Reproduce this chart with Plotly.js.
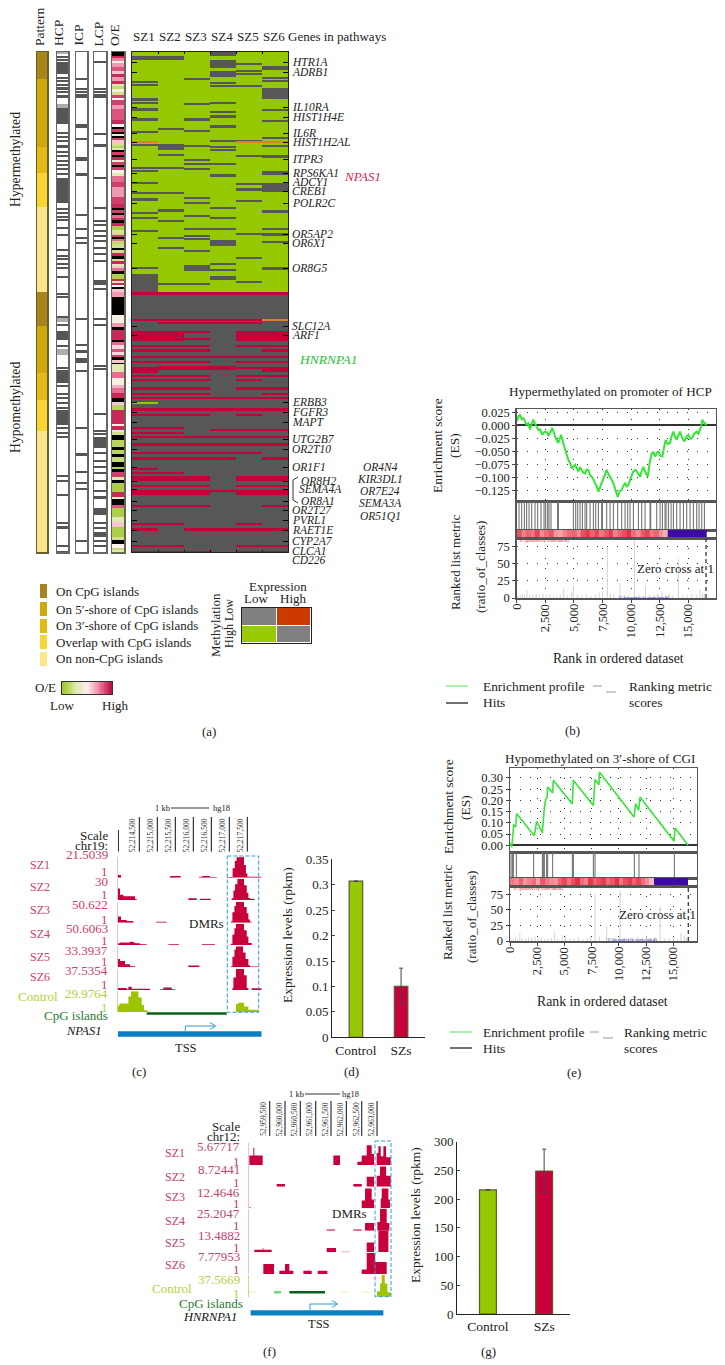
<!DOCTYPE html>
<html><head><meta charset="utf-8"><script src="https://cdn.plot.ly/plotly-3.0.1.min.js"></script>
<style>html,body{margin:0;padding:0;background:#fff}</style></head><body><div id="chart" style="width:725px;height:1365px"></div>
<script>
// ---------- Panel (a): heat map, rows numbered from the top, [first row, row count]
const samples=['SZ1','SZ2','SZ3','SZ4','SZ5','SZ6'];
const ROWS=500, HYPER_END=240;
const hyperSZ1=[[4,4],[29,1],[32,1],[46,3],[50,1],[56,3],[66,3],[79,1],[92,2],[115,1],[118,1],[130,1],[140,1],[146,3],[160,1],[165,1],[178,1],[215,2],[222,18]];
const hyperSZ2=[[4,4],[76,1],[92,2],[94,1],[96,1],[102,1],[115,1],[140,2],[157,3],[168,1],[185,1],[195,1],[231,2]];
const hyperSZ3=[[26,1],[51,1],[66,3],[78,1],[93,1],[107,2],[111,1],[116,1],[145,1],[150,1],[163,1],[176,1],[183,1],[186,1],[198,1],[213,1],[214,5],[231,1]];
const hyperSZ4=[[0,4],[8,8],[19,6],[30,1],[33,1],[50,1],[59,1],[63,3],[73,3],[88,2],[94,1],[97,1],[111,1],[122,3],[155,1],[165,1],[176,1],[188,6],[211,2],[217,1],[224,4]];
const hyperSZ5=[[11,1],[18,1],[21,1],[33,1],[88,1],[103,2],[131,2],[136,3],[148,2],[181,2],[205,1],[229,1]];
const hyperSZ6=[[14,4],[25,1],[28,1],[36,11],[57,2],[68,1],[85,1],[93,1],[103,3],[119,4],[131,9],[158,3],[176,2],[181,3],[189,1],[215,3]];
const hypoSZ1=[[240,3],[267,1],[279,10],[293,1],[297,3],[304,2],[309,1],[315,6],[323,1],[327,1],[335,3],[341,2],[345,1],[356,3],[362,1],[375,1],[380,1],[384,1],[391,3],[400,1],[405,3],[416,1],[420,1],[424,5],[433,1],[438,5],[453,1],[471,1],[476,3],[493,1],[499,1]];
const hypoSZ2=[[240,3],[267,1],[270,1],[279,10],[293,1],[297,3],[304,2],[309,1],[314,4],[323,1],[327,1],[335,3],[341,2],[345,1],[356,3],[362,1],[375,1],[380,1],[384,1],[391,3],[400,1],[405,3],[420,1],[424,5],[433,1],[438,5],[453,1],[471,1],[493,1],[499,1]];
const hypoSZ3=[[240,3],[267,1],[270,1],[279,2],[286,2],[293,1],[297,3],[304,2],[309,1],[314,4],[323,1],[327,1],[335,3],[341,2],[345,1],[356,3],[362,1],[384,1],[391,3],[400,1],[405,3],[424,5],[433,1],[438,5],[453,1],[476,3],[499,1]];
const hypoSZ4=[[240,3],[267,1],[270,1],[304,1],[314,4],[345,1],[356,3],[377,2],[384,1],[391,3],[400,1],[405,3],[438,2],[476,3]];
const hypoSZ5=[[240,3],[267,1],[270,1],[279,10],[293,1],[304,2],[309,1],[315,1],[323,1],[327,1],[335,3],[345,1],[356,3],[362,1],[377,2],[384,1],[391,3],[400,1],[424,5],[433,1],[438,5],[471,1],[476,3],[493,1],[499,1]];
const hypoSZ6=[[240,3],[279,10],[293,1],[297,3],[304,2],[309,1],[315,5],[323,1],[335,3],[341,2],[345,1],[356,3],[377,2],[384,1],[391,3],[405,3],[424,5],[433,1],[438,5],[453,1],[476,3],[493,1],[499,1]];
const specialCells=[[0,89,3],[4,89,3],[5,89,3],[0,90,3],[4,90,3],[5,90,3],[5,267,3],[5,268,3],[0,350,0],[0,351,0]];
const geneNames=['HTR1A','ADRB1','IL10RA','HIST1H4E','IL6R','HIST1H2AL','ITPR3','RPS6KA1','ADCY1','CREB1','POLR2C','OR5AP2','OR6X1','OR8G5','SLC12A','ARF1','ERBB3','FGFR3','MAPT','UTG2B7','OR2T10','OR1F1','OR2T27','PVRL1','RAET1E','CYP2A7','CLCA1','CD226'];
const geneRows=[10,20,55,65,81,90,107,121,130,139,151,182,191,216,274,283,350,360,370,387,397,415,458,468,478,489,499,508];
const bracketGenes=['OR8H2','SEMA4A','OR8A1'];
const bracketRows=[429,437,449];
const sideGenes=['OR4N4','KIR3DL1','OR7E24','SEMA3A','OR51Q1'];
const sideRows=[415,427,439,451,464];
const patternEnds=[27,95,121,155,240,274,321,348,379,500];
const patternClass=[0,1,2,3,4,0,1,2,3,4];
const patternColors=['#a8851a','#cfa90a','#e4bb12','#f7d535','#fde68a'];
const patternNames=['On CpG islands','On 5′-shore of CpG islands','On 3′-shore of CpG islands','Overlap with CpG islands','On non-CpG islands'];
const hcpDark=[[4,2],[7,2],[10,12],[25,1],[28,2],[32,1],[35,3],[39,2],[43,3],[56,16],[80,2],[84,1],[88,2],[93,3],[99,1],[103,2],[108,2],[112,1],[116,2],[121,1],[126,25],[156,2],[160,2],[164,1],[167,1],[175,1],[182,1],[197,2],[203,1],[206,1],[211,1],[215,1],[224,1],[241,2],[244,1],[264,2],[272,2],[279,9],[293,1],[315,2],[318,1],[320,11],[333,1],[341,2],[345,1],[350,1],[355,1],[358,15],[375,2],[380,1],[384,2],[423,1],[428,1],[442,1],[470,2],[474,3],[493,1],[499,1]];
const hcpLight=[[0,2],[52,4],[265,3],[268,2],[297,6]];
const icpDark=[[26,1],[36,1],[39,2],[42,1],[44,1],[72,4],[86,1],[105,1],[107,1],[121,3],[162,1],[176,2],[185,1],[190,1],[266,1],[292,1],[298,3],[306,5],[318,1],[375,1],[401,3],[419,1],[430,2],[436,2],[488,1]];
const lcpDark=[[9,1],[36,1],[39,1],[42,1],[44,2],[81,1],[92,3],[125,1],[155,1],[168,2],[172,2],[178,2],[183,1],[188,2],[195,2],[201,1],[208,2],[228,5],[236,1],[266,1],[272,1],[313,2],[316,2],[361,1],[378,1],[381,2],[385,1],[387,9],[400,1],[408,1],[414,2],[420,1],[428,1],[438,2],[444,3],[456,7],[470,1],[475,2],[480,5],[488,1],[493,1]];
const oeStart=[0,4,6,9,11,15,19,22,25,29,32,34,37,40,43,46,48,53,57,68,72,75,77,80,82,84,86,88,91,94,96,98,100,103,105,108,110,113,115,118,121,124,130,135,145,152,156,158,161,163,166,168,171,174,178,181,183,185,187,189,192,196,198,201,204,207,209,212,214,216,219,222,227,229,231,233,235,237,240,245,263,271,275,278,288,290,293,297,300,303,305,308,311,312,320,326,333,336,341,346,350,353,358,372,374,378,380,383,388,395,398,402,405,410,415,417,420,425,428,431,440,445,447,453,456,465,470,475,485,488,492,496,498];
const oeValue=[-1,.95,.75,.45,.7,.85,.6,.95,.7,.95,.3,.15,.45,.2,.9,.5,.9,.7,.85,.95,.5,-1,.9,-1,.4,-1,.9,.6,.2,.1,.3,-1,.9,-1,.95,.4,.9,-1,.9,.5,.3,.8,.9,.7,.9,.95,-1,.9,-1,.8,.95,-1,.95,.05,.25,.2,.9,-1,.8,.15,.2,-1,.2,.95,-1,.2,.95,.3,.6,.8,-1,.05,.95,.3,.95,.5,-1,.6,.7,-1,.45,.7,-1,.95,-1,.8,.55,.85,.55,.9,-1,.6,-1,.3,.8,.45,.65,.8,.95,-1,.6,.1,.95,.45,.95,.55,.2,-1,.1,-1,.1,-1,.15,-1,.05,-1,.9,.3,-1,.05,.95,.35,-1,.85,.05,.3,.6,.05,.2,-1,.5,.15,.3];
const oeLegend=[0,.04,.08,.12,.16,.2,.24,.28,.32,.36,.4,.44,.48,.52,.56,.6,.64,.68,.72,.76,.8,.84,.88,.92,.96,1];
const matrixZ=[[1,2],[0,1]];
// ---------- Panel (b): enrichment plot
const bRankX=[0,150,290,430,580,720,870,1010,1165,1300,1455,1600,1750,1900,2040,2240,2430,2620,2760,2910,3115,3260,3410,3640,3875,4050,4225,4370,4515,4660,4805,5100,5250,5390,5530,5680,5820,5970,6110,6265,6410,6555,6700,6845,6990,7135,7280,7430,7650,7865,8010,8155,8300,8450,8640,8825,9000,9175,9320,9470,9610,9760,9980,10195,10400,10590,10780,10920,11070,11260,11450,11620,11800,11950,12090,12230,12380,12560,12730,12880,13020,13210,13400,13550,13690,13840,13980,14130,14275,14460,14650,14820,15000,15150,15295,15510,15730,15880,16020,16120,16225,16400,16600];
const bES=[.008,.017,.021,.012,.014,.006,.001,.004,-.008,.002,.011,.003,-.002,-.009,-.008,-.018,-.012,-.013,-.019,-.015,-.005,-.016,-.025,-.034,-.018,-.033,-.047,-.056,-.067,-.072,-.083,-.076,-.084,-.089,-.081,-.086,-.091,-.093,-.085,-.086,-.096,-.099,-.104,-.112,-.118,-.128,-.119,-.109,-.098,-.086,-.094,-.099,-.105,-.112,-.128,-.138,-.127,-.125,-.117,-.112,-.118,-.115,-.101,-.089,-.086,-.094,-.099,-.088,-.080,-.091,-.099,-.072,-.054,-.052,-.060,-.053,-.051,-.059,-.060,-.042,-.028,-.036,-.034,-.020,-.012,-.022,-.028,-.019,-.012,-.024,-.031,-.022,-.018,-.026,-.025,-.016,-.012,-.016,-.008,-.002,.011,.004,.001];
const bHits=[204,437,670,874,1078,1311,1602,1835,2126,2389,2534,2709,2826,3000,3583,3641,4952,5156,5331,5535,5739,5972,6117,6409,6700,6904,7137,7428,7486,7865,8156,8448,8826,9176,9467,9700,9904,10196,10632,10924,11215,11652,11710,12235,12526,12730,12963,13050,13254,13487,13691,13982,14274,14565,14856,15148,15439,15730,15934,16167,16400];
const bMetricX=[100,300,500,700,900,1100,1400,1700,2000,2300,2600,2900,3200,3500,3800,4100,4400,4800,4950,5300,5700,6100,6500,6900,7200,7500,7920,8200,8500,9030,9400,9800,10290,10700,11260,11600,12000,12300,12700,13000,13300,13600,14130,14500,14900,15300,15700,16020,16250,16400];
const bMetricV=[3,4,6,4,12,5,4,6,5,7,4,6,3,4,5,14,4,9,18,5,4,6,3,5,8,10,75,7,5,22,4,5,85,4,18,5,4,7,9,5,6,4,57,5,4,6,5,13,9,6];
const bandEdges=[0,400,800,1200,1600,2000,2400,2800,3200,3600,4000,4400,4800,5200,5600,6000,6400,6800,7200,7600,8000,8400,8800,9200,9600,10000,10400,10800,11200,11600,12000,12400,12800,13200];
const bandBlueEndB=16600, bandBlueEndE=16380;
const bandB=[.8,.55,.7,.6,.85,.5,.65,.75,.45,.4,.55,.65,.7,.5,.8,.9,.7,.85,.6,.75,.9,.55,.7,.8,.95,.65,.5,.75,.85,.6,.7,.5,.35];
const bandE=[.6,.5,.7,.45,.55,.65,.4,.75,.6,.5,.45,.7,.85,.6,.8,.95,.65,.55,.9,.7,.8,.9,.65,.75,.95,.6,.8,.9,.7,.85,.65,.5,.3];
const bZeroCross=16544;
const rankTicks=[0,2500,5000,7500,10000,12500,15000];
const rankLabels=['0','2,500','5,000','7,500','10,000','12,500','15,000'];
// ---------- Panel (e): enrichment plot
const eRankX=[0,153,275,337,520,612,2235,2449,2969,3061,3153,3275,3397,3459,3918,3979,5724,5816,7653,7806,8173,8204,11387,11540,11816,11938,15060,15152,16346];
const eES=[.010,-.009,.048,.092,.082,.141,.043,.107,.055,.114,.166,.204,.211,.260,.233,.290,.184,.290,.177,.293,.270,.327,.126,.186,.155,.215,.018,.077,0];
const eHits=[92,214,306,582,2173,2969,3061,3153,3367,3459,3918,5724,5816,7653,7806,11418,11846,15091];
const eMetricX=[100,300,500,700,900,1100,1400,1700,2000,2300,2600,2900,3200,3500,3800,4100,4400,4800,5100,5500,5900,6300,6700,7100,7400,7806,8200,8877,9200,9600,10100,10500,10900,11300,11700,12100,12500,12900,13300,13775,14200,14600,15000,15400,15700,16000,16200];
const eMetricV=[3,4,6,4,13,5,4,6,5,7,4,6,3,4,5,14,4,9,10,5,4,6,3,5,8,75,7,24,4,5,82,4,6,5,7,4,9,5,6,57,4,5,6,4,13,9,6];
const eZeroCross=16377;
// ---------- Panels (d) and (g): bars
const barGroups=['Control','SZs'];
const dValues=[.307,.1], dErr=[0,.036];
const gValues=[216,249], gErr=[0,38];
// ---------- Panel (c): tracks, x = bp after 52,214,000, y = % of the track maximum
const cPeak1=[[2926,3],[3090,45],[3150,80],[3200,97],[3370,100],[3407,60],[3460,20],[3500,4],[3898,0]];
const cSZ1=[[-102,13],[-9,0],[1352,8],[1648,0],[2157,5],[2250,8],[2463,3],[2650,0]].concat(cPeak1);
const cSZ2=[[-102,55],[-37,25],[56,18],[380,5],[426,0],[1861,8],[2093,0],[2185,6],[2482,0],[3065,8],[3112,45],[3158,75],[3222,100],[3407,70],[3482,35],[3528,10],[3574,6],[3700,0]];
const cSZ3=[[-102,30],[-9,13],[148,8],[333,0],[963,4],[1259,0],[3040,6],[3084,50],[3140,80],[3185,100],[3407,75],[3482,45],[3528,15],[3574,4],[3621,0]];
const cSZ4=[[-102,8],[-37,12],[241,15],[333,12],[380,8],[519,3],[704,0],[1306,3],[1600,0],[2232,3],[2600,0],[3040,6],[3084,50],[3140,80],[3185,100],[3407,70],[3482,40],[3528,10],[3621,0]];
const cSZ5=[[-102,40],[-37,30],[102,15],[241,5],[380,0],[1861,8],[2167,0],[3040,5],[3084,50],[3140,85],[3185,100],[3380,70],[3450,40],[3528,10],[3574,4],[3834,0]];
const cSZ6=[[-102,10],[148,4],[194,15],[287,6],[796,0],[1074,4],[1167,12],[1398,4],[1500,0],[3084,10],[3112,60],[3185,100],[3407,70],[3482,10],[3528,0],[3621,8],[3898,0]];
const cControl=[[-102,30],[-56,42],[194,75],[268,100],[472,70],[565,35],[630,10],[722,3],[796,0],[3185,40],[3250,45],[3407,28],[3528,12],[3806,0]];
// ---------- Panel (f): tracks, x = bp after 52,959,000, y = % of the track maximum
const fSZ1=[[-163,43],[-33,78],[0,43],[272,0],[2576,43],[2794,0],[3359,15],[3500,43],[3663,90],[3826,50],[3902,0],[3989,55],[4043,85],[4120,40],[4207,85],[4294,35],[4446,0]];
const fSZ2=[[728,12],[1000,0],[3228,12],[3500,0],[3663,45],[3902,0],[3989,50],[4098,92],[4294,50],[4446,0]];
const fSZ3=[[-163,5],[-120,0],[3500,35],[3609,90],[3826,40],[3902,0],[4120,45],[4152,90],[4370,40],[4420,0]];
const fSZ4=[[2359,5],[2630,0],[3228,5],[3500,0],[3609,35],[3902,0],[4010,40],[4098,100],[4315,35],[4402,0]];
const fSZ5=[[0,12],[272,20],[293,12],[565,0],[2359,20],[2663,0],[2848,3],[3120,0],[3663,45],[3902,0],[4043,100],[4370,0]];
const fSZ6=[[293,45],[641,0],[815,15],[1000,45],[1141,15],[1272,0],[1598,15],[1870,0],[2065,15],[2380,0],[3500,20],[3663,95],[3935,55],[4315,0]];
const fControl=[[4000,25],[4100,60],[4152,100],[4250,60],[4337,20],[4446,0]];
const cRulerLabels=['52,214,500','52,215,000','52,215,500','52,216,000','52,216,500','52,217,000','52,217,500'];
const cRulerPos=[500,1000,1500,2000,2500,3000,3500];
const fRulerLabels=['52,959,500','52,960,000','52,960,500','52,961,000','52,961,500','52,962,000','52,962,500','52,963,000'];
const fRulerPos=[500,1000,1500,2000,2500,3000,3500,4000];
const cScale=['21.5039','30','50.622','50.6063','33.3937','37.5354','29.9764'];
const fScale=['5.67717','8.72441','12.4646','25.2047','13.4882','7.77953','37.5669'];
const trackNames=['SZ1','SZ2','SZ3','SZ4','SZ5','SZ6','Control'];

// ---------- drawing helpers
const W=725,H=1365,SERIF='"Liberation Serif",serif',DARK='#222';
const traces=[],annotations=[],shapes=[];
const layout={width:W,height:H,margin:{l:0,r:0,t:0,b:0},autosize:false,showlegend:false,paper_bgcolor:'#fff',plot_bgcolor:'rgba(0,0,0,0)',font:{family:SERIF,color:DARK,size:12},annotations,shapes};
let axN=0;
const base={showgrid:false,zeroline:false,showticklabels:false,ticks:'',fixedrange:true,showline:false};
function axes(l,t,r,b,xo,yo){axN++;const s=axN===1?'':axN;
  layout['xaxis'+s]=Object.assign({},base,{domain:[l/W,r/W],anchor:'y'+s},xo||{});
  layout['yaxis'+s]=Object.assign({},base,{domain:[1-b/H,1-t/H],anchor:'x'+s},yo||{});
  return {xaxis:'x'+s,yaxis:'y'+s};}
function txt(t,x,y,o){o=o||{};annotations.push({text:t,xref:'paper',yref:'paper',x:x/W,y:1-y/H,xanchor:o.a||'center',yanchor:o.v||'middle',showarrow:false,textangle:o.r||0,
  font:{family:SERIF,size:o.s||12,color:o.c||DARK},borderpad:0});}
function rect(x0,y0,x1,y1,o){shapes.push(Object.assign({type:'rect',xref:'paper',yref:'paper',x0:x0/W,x1:x1/W,y0:1-y0/H,y1:1-y1/H,line:{width:0}},o||{}));}
function path(pts,o){shapes.push({type:'path',xref:'paper',yref:'paper',path:pts.map((p,i)=>(i?'L':'M')+(p[0]/W)+','+(1-p[1]/H)).join(' '),line:Object.assign({width:1,color:'#000'},o||{})});}
function paint(col,bands,v){bands.forEach(([s,n])=>{const m=Math.max(n,2);for(let r=s;r<s+m&&r<ROWS;r++)col[r]=v;});}
function vert(arr,lo,hi){const x=[],y=[];arr.forEach(a=>{x.push(a,a,null);y.push(lo,hi,null);});return {x,y};}
const rowsY=Array.from({length:ROWS},(_,i)=>i), rowRange=[ROWS-.5,-.5];

// ---------- (a) main heat map
const hyper=[hyperSZ1,hyperSZ2,hyperSZ3,hyperSZ4,hyperSZ5,hyperSZ6],hypo=[hypoSZ1,hypoSZ2,hypoSZ3,hypoSZ4,hypoSZ5,hypoSZ6];
const columns=samples.map((_,c)=>{const col=rowsY.map(r=>r<HYPER_END?0:1);paint(col,hyper[c],1);paint(col,hypo[c],2);return col;});
specialCells.forEach(([c,r,v])=>{columns[c][r]=v;});
const mainZ=rowsY.map(r=>samples.map((_,c)=>columns[c][r]));
let A=axes(132,52,288,552,{range:[-.5,5.5],tickvals:[.5,1.5,2.5,3.5,4.5],ticks:'inside',ticklen:2,tickcolor:'#000',mirror:'ticks',showline:true,linecolor:'#222',linewidth:1},{range:rowRange,tickvals:geneRows.concat(bracketRows),ticks:'inside',ticklen:5,tickcolor:'#000',mirror:'ticks',showline:true,linecolor:'#222',linewidth:1});
traces.push(Object.assign({type:'heatmap',z:mainZ,x:[0,1,2,3,4,5],y:rowsY,zmin:0,zmax:3,showscale:false,hoverinfo:'skip',
 colorscale:[[0,'#94c800'],[.25,'#94c800'],[.25,'#575757'],[.5,'#575757'],[.5,'#c4003a'],[.75,'#c4003a'],[.75,'#d8832a'],[1,'#d8832a']]},A));
samples.forEach((s,i)=>txt(s,144+i*25.9,36,{s:13}));
txt('Genes in pathways',287,36,{a:'left',s:13});
geneNames.forEach((g,i)=>txt('<i>'+g+'</i>',291,52+geneRows[i],{a:'left',s:11.5}));
bracketGenes.forEach((g,i)=>txt('<i>'+g+'</i>',[300,298,300][i],52+bracketRows[i],{a:'left',s:11.5}));
sideGenes.forEach((g,i)=>txt('<i>'+g+'</i>',380,52+sideRows[i],{s:11.5}));
path([[298,477],[293,480],[293,500],[298,503]],{width:1,color:'#333'});
txt('<i>NPAS1</i>',343,177,{a:'left',s:13,c:'#d6244e'});
txt('<i>HNRNPA1</i>',298,360,{a:'left',s:13.5,c:'#22c33a'});
// side strips
function strip(l,r,zcol,scale,zmin,zmax,lineCol){const a=axes(l,52,r,552,{range:[-.5,.5],showline:true,mirror:true,linecolor:lineCol,linewidth:1.5},{range:rowRange,showline:true,mirror:true,linecolor:lineCol,linewidth:1.5});
  traces.push(Object.assign({type:'heatmap',z:zcol.map(v=>[v]),x:[0],y:rowsY,zmin,zmax,showscale:false,hoverinfo:'skip',colorscale:scale},a));}
const patCol=rowsY.map(r=>patternClass[patternEnds.findIndex(e=>r<e)]);
strip(37,47,patCol,[[0,patternColors[0]],[.2,patternColors[0]],[.2,patternColors[1]],[.4,patternColors[1]],[.4,patternColors[2]],[.6,patternColors[2]],[.6,patternColors[3]],[.8,patternColors[3]],[.8,patternColors[4]],[1,patternColors[4]]],0,4,'#6b5d2e');
const monoScale=[[0,'#ffffff'],[.33,'#ffffff'],[.33,'#adadad'],[.66,'#adadad'],[.66,'#555555'],[1,'#555555']];
function monoCol(dark,light){const c=rowsY.map(()=>0);if(light)paint(c,light,1);paint(c,dark,2);return c;}
strip(57,68,monoCol(hcpDark,hcpLight),monoScale,0,2,'#666');
strip(76,87,monoCol(icpDark),monoScale,0,2,'#666');
strip(94,106,monoCol(lcpDark),monoScale,0,2,'#666');
const oeScale=[[0,'#000'],[.49,'#000'],[.5,'#9fc92e'],[.62,'#d8e6a0'],[.75,'#fbf2f0'],[.88,'#ee7ea0'],[1,'#bd1245']];
const oeCol=rowsY.map(r=>{let v=oeValue[0];oeStart.forEach((s,i)=>{if(r>=s)v=oeValue[i];});return v;});
strip(112,124,oeCol,oeScale,-1,1,'#665');
[['Pattern',40],['HCP',59],['ICP',78],['LCP',98],['O/E',115]].forEach(([t,x])=>txt(t,x,47,{r:-90,v:'bottom',s:13.5}));
txt('Hypermethylated',15,160,{r:-90,s:13.7});
txt('Hypomethylated',15,408,{r:-90,s:13.7});
// pattern legend
patternNames.forEach((n,i)=>{const ys=[591,609,626,642,659][i],c=patternColors[i];rect(40,ys-7,47,ys+7,{fillcolor:c});
  txt(n,55,[591,609,626,642,658][i],{a:'left',s:13});});
// O/E legend
txt('O/E',45,687,{s:13});
A=axes(62,682,112,694,{range:[-.5,25.5],showline:true,mirror:true,linecolor:'#333',linewidth:1},{range:[-.5,.5],showline:true,mirror:true,linecolor:'#333',linewidth:1});
traces.push(Object.assign({type:'heatmap',z:[oeLegend],zmin:-1,zmax:1,showscale:false,hoverinfo:'skip',colorscale:oeScale},A));
txt('Low',62,705,{s:13});txt('High',115,705,{s:13});
// expression / methylation matrix
A=axes(242,608,311,643,{range:[-.5,1.5],showline:true,mirror:true,linecolor:'#222',linewidth:1},{range:[1.5,-.5],showline:true,mirror:true,linecolor:'#222',linewidth:1});
traces.push(Object.assign({type:'heatmap',z:matrixZ,zmin:0,zmax:2,xgap:1,ygap:1,showscale:false,hoverinfo:'skip',colorscale:[[0,'#99cc00'],[.33,'#99cc00'],[.33,'#808080'],[.66,'#808080'],[.66,'#cc3a00'],[1,'#cc3a00']]},A));
txt('Expression',278,586,{s:13});txt('Low',256,598,{s:13});txt('High',293,598,{s:13});
txt('Methylation',216,625,{r:-90,s:13});txt('Low',229,610,{r:-90,s:12});txt('High',229,636,{r:-90,s:12});
txt('(a)',209,731,{s:13});

// ---------- GSEA panels
function gsea(o){
 const grid={showgrid:true,gridcolor:'#333',griddash:'1px,9px',gridwidth:1};
 const frame={showline:true,mirror:true,linecolor:'#555',linewidth:1.5};
 const xr=[0,o.xMax];
 let a=axes(o.l,o.t1,o.r,o.t2,Object.assign({range:xr,tickvals:rankTicks},grid,frame),
   Object.assign({range:o.esRange,tickvals:o.esTicks,tickformat:o.esFmt,showticklabels:true,ticks:'outside',ticklen:3,tickfont:{size:12.5},zeroline:true,zerolinecolor:'#333',zerolinewidth:2},grid,frame));
 traces.push(Object.assign({type:'scatter',mode:'lines',x:o.rank,y:o.es,line:{color:'#35e635',width:o.lw},hoverinfo:'skip'},a));
 a=axes(o.l,o.t2,o.r,o.t3,Object.assign({range:xr},frame),Object.assign({range:[0,1]},frame));
 const h=vert(o.hits,0,1);
 traces.push(Object.assign({type:'scatter',mode:'lines',x:h.x,y:h.y,line:{color:'#666',width:1},hoverinfo:'skip'},a));
 a=axes(o.l,o.t3,o.r,o.t4,Object.assign({range:xr},frame),Object.assign({range:[0,1]},frame));
 traces.push(Object.assign({type:'heatmap',x:bandEdges.concat([o.blueEnd]),y:[0,1],z:[o.band.concat([-1])],zmin:-1,zmax:1,showscale:false,hoverinfo:'skip',
   colorscale:[[0,'#3d0aa8'],[.49,'#3d0aa8'],[.5,'#ffffff'],[.7,'#f8a0a8'],[1,'#e2263a']]},a));
 a=axes(o.l,o.t4,o.r,o.t5,Object.assign({range:xr,tickvals:rankTicks,ticks:'outside',ticklen:3},grid,frame),
   Object.assign({range:[0,o.mMax],tickvals:[0,25,50,75],showticklabels:true,ticks:'outside',ticklen:3,tickfont:{size:12.5}},grid,frame));
 rankTicks.forEach((v,i)=>annotations.push({text:rankLabels[i],xref:a.xaxis,yref:'paper',x:v,y:1-(o.t5+5)/H,yanchor:'top',xanchor:'center',textangle:-90,showarrow:false,borderpad:0,font:{family:SERIF,size:12.5,color:DARK}}));
 const sx=[],sy=[];o.mx.forEach((v,i)=>{sx.push(v,v,null);sy.push(0,o.mv[i],null);});
 traces.push(Object.assign({type:'scatter',mode:'lines',x:sx,y:sy,line:{color:'#d4d4d4',width:1},hoverinfo:'skip'},a));
 traces.push(Object.assign({type:'scatter',mode:'lines',x:[o.zero,o.zero],y:[0,o.mMax],line:{color:'#444',width:1.4,dash:'4px,3px'},hoverinfo:'skip'},a));
}
gsea({l:516.7,r:715.7,t1:409,t2:501,t3:530,t4:538,t5:598,xMax:17388,lw:2,esRange:[-.146,.0317],esTicks:[.025,0,-.025,-.05,-.075,-.1,-.125],esFmt:'.3f',rank:bRankX,es:bES,hits:bHits,band:bandB,blueEnd:bandBlueEndB,mx:bMetricX,mv:bMetricV,mMax:87.8,zero:bZeroCross});
gsea({l:510,r:696.7,t1:768,t2:852,t3:878,t4:886,t5:941,xMax:17143,lw:1.6,esRange:[-.03,.3445],esTicks:[.3,.25,.2,.15,.1,.05,0],esFmt:'.2f',rank:eRankX,es:eES,hits:eHits,band:bandE,blueEnd:bandBlueEndE,mx:eMetricX,mv:eMetricV,mMax:88.4,zero:eZeroCross});
txt('Hypermethylated on promoter of HCP',610,391,{s:13.2});
txt('Enrichment score',438,446,{r:-90,s:13.5});txt('(ES)',455,446,{r:-90,s:13.5});
txt('Ranked list metric',455,562,{r:-90,s:13});txt('(ratio_of_classes)',480,567,{r:-90,s:13});
txt('Zero cross at 1',675,568,{s:13});txt('Rank in ordered dataset',618,658,{s:13.8});
txt('\'0\' (positively correlated)',518,541,{a:'left',s:5,c:'#d8202a'});txt('\'1\' (negatively correlated)',617,597,{a:'left',s:5,c:'#2a2ac8'});
txt('(b)',572,730,{s:13});
txt('Hypomethylated on 3′-shore of CGI',600,758,{s:13.2});
txt('Enrichment score',448,807,{r:-90,s:13.5});txt('(ES)',465,807,{r:-90,s:13.5});
txt('Ranked list metric',448,912,{r:-90,s:13});txt('(ratio_of_classes)',472,917,{r:-90,s:13});
txt('Zero cross at 1',657,915,{s:13});txt('Rank in ordered dataset',602,1002,{s:13.8});
txt('\'0\' (positively correlated)',512,888,{a:'left',s:5,c:'#d8202a'});txt('\'1\' (negatively correlated)',605,939,{a:'left',s:5,c:'#2a2ac8'});
txt('(e)',574,1072,{s:13});
function gseaLegend(x0,x1,y1,y2,tx,dx,rx){
 path([[x0,y1],[x1,y1]],{width:1.3,color:'#7fe87f'});path([[x0,y2],[x1,y2]],{width:1.3,color:'#222'});
 txt('Enrichment profile',tx,y1,{a:'left',s:13.4});txt('Hits',tx,y2,{a:'left',s:13.4});
 path([[dx,y1],[dx+9,y1]],{width:1,color:'#999'});path([[dx+13,y1+6],[dx+23,y1+6]],{width:1,color:'#999'});
 txt('Ranking metric',rx,y1,{a:'left',s:13.4});txt('scores',rx,y2,{a:'left',s:13.4});}
gseaLegend(446,468,686,703,482,593,628);
gseaLegend(450,472,1032,1048,482,590,623);

// ---------- bar panels
function bars(l,t,r,b,range,ymax,ticks,vals,err,fs){
 const a=axes(l,t,r,b,{range,showline:true,linecolor:'#222',linewidth:1,showticklabels:true,tickmode:'array',tickvals:[0,1],ticktext:barGroups,tickfont:{size:13.5}},
  {range:[0,ymax],showline:true,linecolor:'#222',linewidth:1,showticklabels:true,tickvals:ticks,ticks:'inside',ticklen:3,tickfont:{size:fs}});
 traces.push(Object.assign({type:'bar',x:[0,1],y:vals,width:.3,marker:{color:['#96c800','#c8003c'],line:{color:'#5a5a30',width:1.2}},
  error_y:{type:'data',array:err,visible:true,color:'#444',thickness:1,width:2},hoverinfo:'skip'},a));
}
bars(332,859.3,425,1037.3,[-.53,1.53],.35,[0,.05,.1,.15,.2,.25,.3,.35],dValues,dErr,13);
bars(457,1141.7,570,1314,[-.55,1.46],300,[0,50,100,150,200,250,300],gValues,gErr,13);
txt('Expression levels (rpkm)',287,935,{r:-90,s:13.5});
txt('Expression levels (rpkm)',415,1215,{r:-90,s:13.5});
txt('(d)',351,1071,{s:13});txt('(g)',488,1351,{s:13});

// ---------- genome browser panels
function browser(o){
 const xo={range:o.xr};
 const rulerA=axes(o.l,o.rulerT,o.r,o.rulerB,xo,{range:[0,1]});
 const rv=vert(o.rulerPos,0,1);
 traces.push(Object.assign({type:'scatter',mode:'lines',x:rv.x,y:rv.y,line:{color:'#333',width:1.2},hoverinfo:'skip'},rulerA));
 traces.push(Object.assign({type:'scatter',mode:'lines',x:[o.chromPos,o.chromPos],y:[0,o.chromH],line:{color:'#333',width:1.2},hoverinfo:'skip'},rulerA));
 o.rulerLabels.forEach((t,i)=>annotations.push({text:t,xref:rulerA.xaxis,yref:rulerA.yaxis,x:o.rulerPos[i],y:.48,xshift:-6,showarrow:false,textangle:-90,font:{family:SERIF,size:7.5,color:'#333'}}));
 o.tracks.forEach((tr,i)=>{
  const a=axes(o.l,o.bases[i]-o.h,o.r,o.bases[i],xo,{range:[0,100],showline:true,linecolor:i===6?'#c8dc90':'#f0c0d0',linewidth:1});
  const col=i===6?'#9cc400':'#c8003c';
  traces.push(Object.assign({type:'scatter',mode:'lines',x:tr.map(p=>p[0]),y:tr.map(p=>p[1]),line:{shape:'hv',width:0,color:col},fill:'tozeroy',fillcolor:col,hoverinfo:'skip'},a));
 });
 const an=axes(o.l,o.annT,o.r,o.annB,xo,{range:[.7,2.2]});
 traces.push(Object.assign({type:'scatter',mode:'lines',x:o.gene,y:[1,1],line:{color:'#0a80c4',width:5.3},hoverinfo:'skip'},an));
 o.cpg.forEach(c=>traces.push(Object.assign({type:'scatter',mode:'lines',x:c.x,y:[2,2],line:{color:c.color,width:c.w},hoverinfo:'skip'},an)));
}
browser({l:117.7,r:261.7,xr:[-102,3898],rulerT:816.7,rulerB:851.7,rulerPos:cRulerPos,rulerLabels:cRulerLabels,chromPos:-83,chromH:.62,tracks:[cSZ1,cSZ2,cSZ3,cSZ4,cSZ5,cSZ6,cControl],bases:[877.7,900,922.7,945,967.3,990,1012.3],h:21,annT:1009.3,annB:1040.2,gene:[-102,3898],cpg:[{x:[704,2926],color:'#0a5f1a',w:2.5}]});
browser({l:249,r:391.7,xr:[-174,4478],rulerT:1101,rulerB:1136,rulerPos:fRulerPos,rulerLabels:fRulerLabels,chromPos:-174,chromH:0,tracks:[fSZ1,fSZ2,fSZ3,fSZ4,fSZ5,fSZ6,fControl],bases:[1165,1186.7,1208.3,1230.7,1252.3,1274,1296.7],h:22,annT:1288,annB:1319,gene:[-120,4207],cpg:[{x:[-174,76],color:'#e8f0c0',w:1},{x:[641,870],color:'#6fdc7a',w:2.5},{x:[1141,2304],color:'#0a5f1a',w:2.5},{x:[2800,3100],color:'#e8f0c0',w:1},{x:[3500,3750],color:'#e8f0c0',w:1}]});
// (c) text
const cNameY=[865,887,910,934,957,977,996],cMaxY=[854,881,904,928,950,970,993],cOneY=[872,894,919,940,961,984,1007];
trackNames.forEach((n,i)=>{const c=i===6?'#b6cf3c':'#d03a6e';txt(n,i===6?38:40,cNameY[i],{s:i===6?13:12,c});txt(cScale[i],109,cMaxY[i],{a:'right',s:13,c});txt('1',109,cOneY[i],{a:'right',s:13,c});});
txt('Scale',109,835,{a:'right',s:13});txt('chr19:',109,845,{a:'right',s:13});
txt('1 kb',162,808,{s:8.5});txt('hg18',221,808,{s:8.5});path([[171,808],[209,808]],{width:1,color:'#333'});
txt('DMRs',206,923,{s:13});
rect(227.3,856,258.7,1012.3,{line:{color:'#2a9fd6',width:1,dash:'4px,2px'}});
txt('CpG islands',109,1015,{a:'right',s:13,c:'#1f7a30'});txt('<i>NPAS1</i>',103,1031,{a:'right',s:12.5,c:'#111'});
path([[185.3,1031],[185.3,1026],[215,1026]],{width:1,color:'#2a9fd6'});path([[210,1022.5],[215.5,1026],[210,1029.5]],{width:1,color:'#2a9fd6'});
txt('TSS',186,1048,{s:12.5});txt('(c)',139,1071,{s:13});
// (f) text
const fNameY=[1153,1177,1197,1221,1243,1265,1288],fMaxY=[1146,1169,1192,1213,1235,1256,1279],fOneY=[1161,1182,1203,1225,1247,1269,1293];
trackNames.forEach((n,i)=>{const c=i===6?'#b6cf3c':'#c04070';txt(n,i===6?172:175,fNameY[i],{s:i===6?13:12,c});txt(fScale[i],241,fMaxY[i],{a:'right',s:13,c});txt('1',241,fOneY[i],{a:'right',s:13,c});});
txt('Scale',241,1126,{a:'right',s:13});txt('chr12:',241,1136,{a:'right',s:13});
txt('1 kb',296,1094,{s:8.5});txt('hg18',350,1094,{s:8.5});path([[305,1094],[340,1094]],{width:1,color:'#333'});
txt('DMRs',349,1213,{s:13});
rect(375,1141,391,1296.7,{line:{color:'#2a9fd6',width:1,dash:'4px,2px'}});
txt('CpG islands',244,1303,{a:'right',s:13,c:'#1f7a30'});txt('<i>HNRNPA1</i>',238,1317,{a:'right',s:12.5,c:'#111'});
path([[310,1311],[310,1304],[337,1304]],{width:1,color:'#2a9fd6'});path([[332,1300.5],[337.5,1304],[332,1307.5]],{width:1,color:'#2a9fd6'});
txt('TSS',319,1324,{s:12.5});txt('(f)',269,1351,{s:13});

Plotly.newPlot('chart',traces,layout,{staticPlot:true,displayModeBar:false});
</script></body></html>
